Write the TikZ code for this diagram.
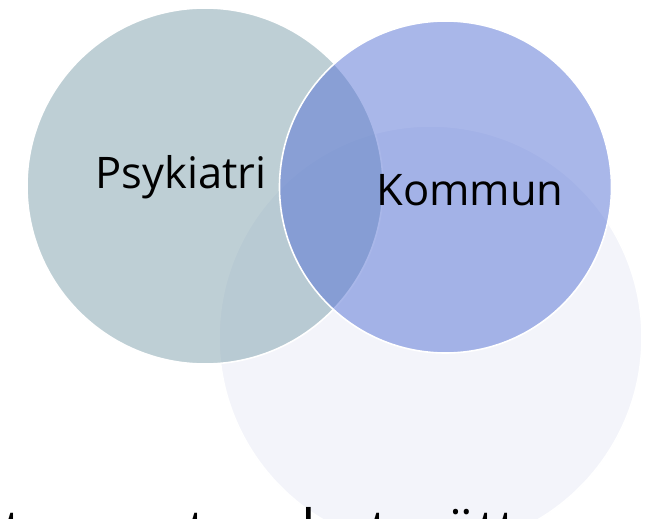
\documentclass[tikz,border=0pt]{standalone}
\usepackage{fontspec}
\setmainfont{Open Sans}
\definecolor{psy}{RGB}{127,161,173}
\definecolor{kom}{RGB}{85,113,213}
\definecolor{thirdc}{RGB}{243,244,250}
\begin{document}
\begin{tikzpicture}[x=1pt,y=-1pt,
  venn/.style={circle, draw=white, line width=1.6pt, inner sep=0pt, minimum size=#1},
  lab/.style={anchor=base, text=black, font=\fontsize{43.5}{50}\selectfont}]
\useasboundingbox (0,0) rectangle (649,519);
\clip (0,0) rectangle (649,519);
\fill[white] (0,0) rectangle (649,519);
\node[venn=423pt, fill=thirdc] (c3) at (430.5,337.5) {};
\node[venn=356pt, fill=psy, fill opacity=0.5] (c1) at (205,186) {};
\node[venn=332pt, fill=kom, fill opacity=0.5] (c2) at (445.5,187) {};
\node[lab] (t1) at (181,188) {Psykiatri};
\node[lab] (t2) at (470,205) {Kommun};
\node[anchor=base east, text=black, font=\fontsize{58}{64}\selectfont] (t3) at (522,551) {ett\hspace{28pt}annat\hspace{37pt}arbetssätt};
\end{tikzpicture}
\end{document}
